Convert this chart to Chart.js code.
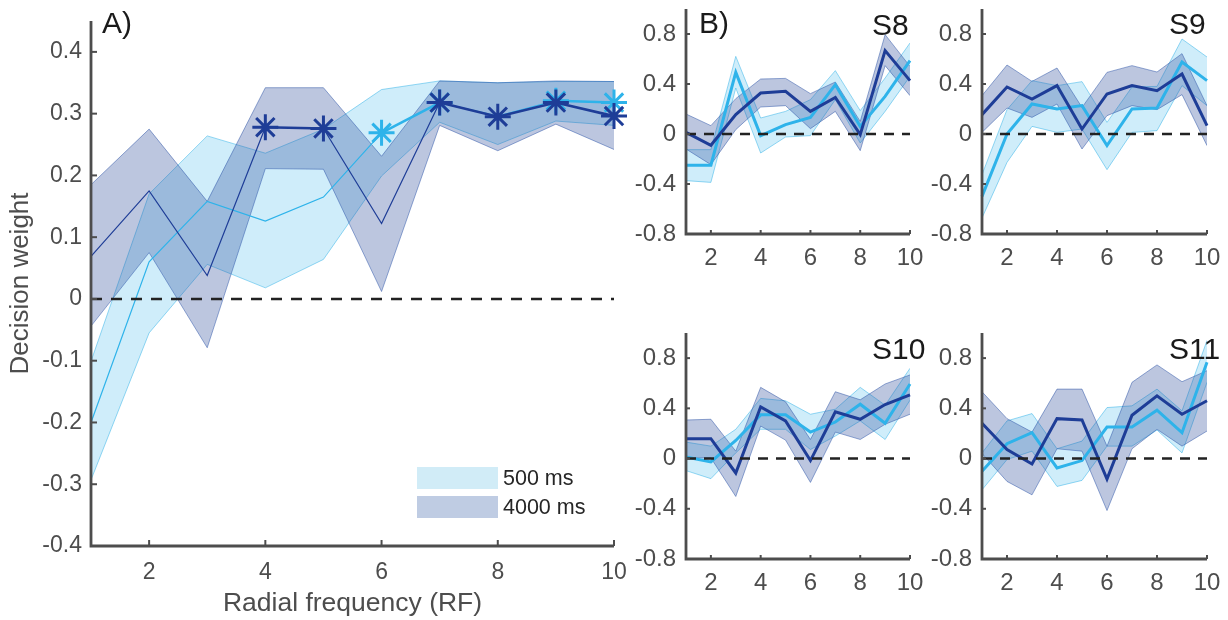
<!DOCTYPE html>
<html>
<head>
<meta charset="utf-8">
<script src="https://cdn.jsdelivr.net/npm/chart.js@4.4.1/dist/chart.umd.min.js"></script>
<style>
  body { margin: 0; background: #fff; }
  #wrap { position: relative; width: 1228px; height: 620px; overflow: hidden; }
  canvas { position: absolute; }
</style>
</head>
<body>
<div id="wrap">
  <canvas id="chartA"></canvas>
  <canvas id="chartS8"></canvas>
  <canvas id="chartS9"></canvas>
  <canvas id="chartS10"></canvas>
  <canvas id="chartS11"></canvas>
</div>
<script>
// x categories: radial frequency 1..10
const rf = [1, 2, 3, 4, 5, 6, 7, 8, 9, 10];
const xTicks = [2, 4, 6, 8, 10];
const yTicksA = [-0.4, -0.3, -0.2, -0.1, 0, 0.1, 0.2, 0.3, 0.4];
const yTicksB = [-0.8, -0.4, 0, 0.4, 0.8];
const legendLabels = ['500 ms', '4000 ms'];

// Panel A (group): 500 ms mean + band, 4000 ms mean + band
const shortMeanA = [-0.2, 0.06, 0.158, 0.126, 0.165, 0.269, 0.318, 0.296, 0.321, 0.318];
const shortHiA   = [-0.101, 0.17, 0.264, 0.236, 0.275, 0.339, 0.353, 0.35, 0.352, 0.352];
const shortLoA   = [-0.293, -0.055, 0.056, 0.018, 0.064, 0.199, 0.286, 0.25, 0.288, 0.281];
const longMeanA  = [0.069, 0.175, 0.038, 0.278, 0.276, 0.122, 0.318, 0.295, 0.318, 0.296];
const longHiA    = [0.185, 0.275, 0.158, 0.342, 0.342, 0.231, 0.353, 0.35, 0.353, 0.352];
const longLoA    = [-0.044, 0.075, -0.079, 0.211, 0.21, 0.012, 0.281, 0.24, 0.283, 0.242];
const sigShortA  = [6, 7, 9, 10];
const sigLongA   = [4, 5, 7, 8, 9, 10];

// S8
const shortMeanS8 = [-0.25, -0.25, 0.493, -0.013, 0.075, 0.133, 0.395, 0.061, 0.301, 0.587];
const shortHiS8   = [-0.125, -0.125, 0.621, 0.128, 0.181, 0.275, 0.507, 0.187, 0.448, 0.728];
const shortLoS8   = [-0.373, -0.387, 0.368, -0.152, -0.024, -0.013, 0.275, -0.072, 0.181, 0.461];
const longMeanS8  = [0.013, -0.09, 0.155, 0.328, 0.341, 0.181, 0.293, -0.005, 0.667, 0.427];
const longHiS8    = [0.16, 0.067, 0.283, 0.44, 0.445, 0.323, 0.416, 0.101, 0.795, 0.541];
const longLoS8    = [-0.12, -0.245, 0.035, 0.216, 0.227, 0.043, 0.181, -0.133, 0.547, 0.307];

// S9
const shortMeanS9 = [-0.499, 0.0, 0.24, 0.2, 0.227, -0.093, 0.2, 0.208, 0.576, 0.427];
const shortHiS9   = [-0.325, 0.195, 0.427, 0.387, 0.419, 0.093, 0.376, 0.381, 0.76, 0.616];
const shortLoS9   = [-0.672, -0.227, 0.061, 0.013, 0.04, -0.285, 0.013, 0.027, 0.387, 0.227];
const longMeanS9  = [0.155, 0.376, 0.28, 0.387, 0.04, 0.32, 0.387, 0.347, 0.48, 0.067];
const longHiS9    = [0.307, 0.552, 0.421, 0.528, 0.213, 0.493, 0.547, 0.496, 0.643, 0.227];
const longLoS9    = [0.013, 0.208, 0.133, 0.24, -0.12, 0.147, 0.227, 0.195, 0.315, -0.093];

// S10
const shortMeanS10 = [0.013, -0.027, 0.144, 0.348, 0.348, 0.211, 0.291, 0.433, 0.281, 0.594];
const shortHiS10   = [0.131, 0.099, 0.233, 0.479, 0.46, 0.353, 0.393, 0.567, 0.425, 0.719];
const shortLoS10   = [-0.096, -0.16, 0.045, 0.233, 0.233, 0.072, 0.179, 0.3, 0.152, 0.465];
const longMeanS10  = [0.158, 0.158, -0.115, 0.412, 0.3, -0.016, 0.372, 0.313, 0.43, 0.508];
const longHiS10    = [0.307, 0.313, 0.059, 0.567, 0.452, 0.152, 0.532, 0.468, 0.594, 0.666];
const longLoS10    = [0.005, 0.005, -0.302, 0.259, 0.147, -0.19, 0.211, 0.152, 0.273, 0.353];

// S11
const shortMeanS11 = [-0.102, 0.118, 0.206, -0.075, -0.016, 0.251, 0.251, 0.385, 0.206, 0.767];
const shortHiS11   = [0.045, 0.3, 0.358, 0.078, 0.139, 0.406, 0.42, 0.553, 0.38, 0.941];
const shortLoS11   = [-0.249, -0.008, 0.059, -0.222, -0.174, 0.099, 0.099, 0.227, 0.045, 0.607];
const longMeanS11  = [0.281, 0.072, -0.043, 0.318, 0.307, -0.163, 0.345, 0.5, 0.353, 0.46];
const longHiS11    = [0.532, 0.318, 0.211, 0.553, 0.553, 0.099, 0.607, 0.746, 0.612, 0.7];
const longLoS11    = [0.04, -0.182, -0.289, 0.078, 0.059, -0.414, 0.078, 0.233, 0.099, 0.219];

const C = {
  short: '#2eb3ea', long: '#1e3d97',
  shortFill: 'rgba(48,178,232,0.23)', longFill: 'rgba(38,72,152,0.31)',
  shortEdge: 'rgba(48,178,232,0.5)', longEdge: 'rgba(45,85,170,0.5)',
  shortPatch: '#d1ecf7', longPatch: '#bfcce3',
  axis: '#4d4d4d', text: '#4d4d4d', title: '#1a1a1a', zero: '#222222'
};
const FONT = '"Liberation Sans", Arial, Helvetica, sans-serif';
Chart.defaults.font.family = FONT;

const pts = arr => arr.map((v, i) => ({ x: rf[i], y: v }));

// draws axis lines and MATLAB-style inward ticks on top of the data
const axesInward = {
  id: 'axesInward',
  afterDatasetsDraw(chart, args, opts) {
    const { ctx, chartArea: a, scales: { x, y } } = chart;
    ctx.save();
    ctx.strokeStyle = C.axis;
    ctx.lineWidth = opts.width;
    ctx.beginPath();
    ctx.moveTo(a.left, a.top);
    ctx.lineTo(a.left, a.bottom);
    ctx.lineTo(a.right, a.bottom);
    ctx.stroke();
    ctx.lineWidth = 2;
    x.ticks.forEach(t => {
      const px = x.getPixelForValue(t.value);
      ctx.beginPath(); ctx.moveTo(px, a.bottom); ctx.lineTo(px, a.bottom - opts.len); ctx.stroke();
    });
    y.ticks.forEach(t => {
      const py = y.getPixelForValue(t.value);
      ctx.beginPath(); ctx.moveTo(a.left, py); ctx.lineTo(a.left + opts.len, py); ctx.stroke();
    });
    ctx.restore();
  }
};

// panel letters, subject names and the legend of panel A
const panelText = {
  id: 'panelText',
  afterDraw(chart, args, opts) {
    const { ctx, chartArea: a } = chart;
    ctx.save();
    (opts.items || []).forEach(it => {
      ctx.font = it.size + 'px ' + FONT;
      ctx.fillStyle = it.color || C.title;
      ctx.textBaseline = 'alphabetic';
      ctx.textAlign = 'left';
      ctx.fillText(it.text, a.left + it.dx, a.top + it.dy);
    });
    if (opts.legend) {
      const L = opts.legend;
      [C.shortPatch, C.longPatch].forEach((col, i) => {
        const top = a.top + L.dy + i * L.step;
        ctx.fillStyle = col;
        ctx.fillRect(a.left + L.dx, top, L.w, L.h);
        ctx.fillStyle = '#262626';
        ctx.font = L.size + 'px ' + FONT;
        ctx.textBaseline = 'middle';
        ctx.fillText(legendLabels[i], a.left + L.dx + L.w + 5, top + L.h / 2 + 1);
      });
    }
    ctx.restore();
  }
};

function buildSets(p, o) {
  const sizeAt = sig => c => (sig.includes(rf[c.index]) ? o.starR : 0);
  const segW = sig => c => (sig.includes(rf[c.p0DataIndex]) && sig.includes(rf[c.p1DataIndex]) ? o.lwSig : o.lw);
  const band = (data, col, fillCol, order, fill) => ({
    data: pts(data), borderColor: col, borderWidth: 1, pointRadius: 0,
    fill: fill ? '-1' : false, backgroundColor: fillCol, order: order
  });
  return [
    band(p.shortHi, C.shortEdge, C.shortFill, 8, false),
    band(p.shortLo, C.shortEdge, C.shortFill, 7, true),
    band(p.longHi, C.longEdge, C.longFill, 6, false),
    band(p.longLo, C.longEdge, C.longFill, 5, true),
    {
      data: pts(p.shortMean), borderColor: C.short, borderWidth: o.lw, fill: false, order: 4, clip: false,
      segment: { borderWidth: segW(p.sigShort || []) },
      pointStyle: 'star', pointRadius: sizeAt(p.sigShort || []), pointBorderWidth: 3,
      pointBorderColor: C.short, pointBackgroundColor: C.short
    },
    {
      data: pts(p.longMean), borderColor: C.long, borderWidth: o.lw, fill: false, order: 3, clip: false,
      segment: { borderWidth: segW(p.sigLong || []) },
      pointStyle: 'star', pointRadius: sizeAt(p.sigLong || []), pointBorderWidth: 3,
      pointBorderColor: C.long, pointBackgroundColor: C.long
    },
    {
      data: [{ x: rf[0], y: 0 }, { x: rf[rf.length - 1], y: 0 }], borderColor: C.zero,
      borderWidth: 2.6, borderDash: o.dash, pointRadius: 0, fill: false, order: 1
    }
  ];
}

function makeChart(id, box, plot, p, o) {
  const cv = document.getElementById(id);
  cv.width = box.r - box.l;
  cv.height = box.b - box.t;
  cv.style.left = box.l + 'px';
  cv.style.top = box.t + 'px';
  return new Chart(cv, {
    type: 'line',
    data: { datasets: buildSets(p, o) },
    options: {
      responsive: false, animation: false, events: [],
      layout: { padding: { top: plot.t - box.t, right: box.r - plot.r, left: 0, bottom: 0 } },
      plugins: {
        legend: { display: false }, tooltip: { enabled: false },
        axesInward: { len: o.tickLen, width: 2.8 },
        panelText: { items: o.texts, legend: o.legend }
      },
      scales: {
        x: {
          type: 'linear', min: 1, max: 10,
          afterBuildTicks: s => { s.ticks = xTicks.map(v => ({ value: v })); },
          afterFit: s => { s.height = box.b - plot.b; s.paddingLeft = 0; s.paddingRight = 0; },
          grid: { display: false, drawTicks: false }, border: { display: false },
          ticks: { color: C.text, font: { size: o.tickSize }, padding: o.xPad, maxRotation: 0, autoSkip: false,
                   callback: v => String(v) },
          title: o.xTitle ? { display: true, text: o.xTitle, color: C.text, font: { size: 26.5 }, padding: { top: 0, bottom: 0 } }
                          : { display: false }
        },
        y: {
          type: 'linear', min: o.yMin, max: o.yMax,
          afterBuildTicks: s => { s.ticks = o.yTicks.map(v => ({ value: v })); },
          afterFit: s => { s.width = plot.l - box.l; s.paddingTop = 0; s.paddingBottom = 0; },
          grid: { display: false, drawTicks: false }, border: { display: false },
          ticks: { color: C.text, font: { size: o.tickSize }, padding: o.yPad, autoSkip: false,
                   callback: v => String(Number(v.toFixed(2))) },
          title: o.yTitle ? { display: true, text: o.yTitle, color: C.text, font: { size: 26 }, padding: { top: 5, bottom: 0 } }
                          : { display: false }
        }
      }
    },
    plugins: [axesInward, panelText]
  });
}

const small = (texts) => ({
  yMin: -0.8, yMax: 1.0, yTicks: yTicksB, tickSize: 24, tickLen: 4, xPad: 10, yPad: 10,
  lw: 3, lwSig: 3, starR: 0, dash: [10, 8], texts: texts
});

makeChart('chartA', { l: 0, t: 0, r: 630, b: 620 }, { l: 91, t: 21, r: 614, b: 546 },
  { shortMean: shortMeanA, shortHi: shortHiA, shortLo: shortLoA,
    longMean: longMeanA, longHi: longHiA, longLo: longLoA, sigShort: sigShortA, sigLong: sigLongA },
  { yMin: -0.4, yMax: 0.45, yTicks: yTicksA, tickSize: 23, tickLen: 6, xPad: 13, yPad: 9,
    lw: 1.2, lwSig: 2.6, starR: 13, dash: [11, 9],
    xTitle: 'Radial frequency (RF)', yTitle: 'Decision weight',
    texts: [{ text: 'A)', dx: 11, dy: 12, size: 30 }],
    legend: { dx: 326, dy: 446, w: 81, h: 22, step: 29, size: 21.5 } });

makeChart('chartS8', { l: 630, t: 0, r: 935, b: 275 }, { l: 686, t: 9, r: 910, b: 234 },
  { shortMean: shortMeanS8, shortHi: shortHiS8, shortLo: shortLoS8,
    longMean: longMeanS8, longHi: longHiS8, longLo: longLoS8 },
  small([{ text: 'B)', dx: 13, dy: 24, size: 30 }, { text: 'S8', dx: 186, dy: 26, size: 30 }]));

makeChart('chartS9', { l: 915, t: 0, r: 1228, b: 275 }, { l: 982, t: 9, r: 1207, b: 234 },
  { shortMean: shortMeanS9, shortHi: shortHiS9, shortLo: shortLoS9,
    longMean: longMeanS9, longHi: longHiS9, longLo: longLoS9 },
  small([{ text: 'S9', dx: 187, dy: 25, size: 30 }]));

makeChart('chartS10', { l: 630, t: 290, r: 935, b: 600 }, { l: 686, t: 333, r: 910, b: 559 },
  { shortMean: shortMeanS10, shortHi: shortHiS10, shortLo: shortLoS10,
    longMean: longMeanS10, longHi: longHiS10, longLo: longLoS10 },
  small([{ text: 'S10', dx: 186, dy: 26, size: 30 }]));

makeChart('chartS11', { l: 915, t: 290, r: 1228, b: 600 }, { l: 982, t: 333, r: 1207, b: 559 },
  { shortMean: shortMeanS11, shortHi: shortHiS11, shortLo: shortLoS11,
    longMean: longMeanS11, longHi: longHiS11, longLo: longLoS11 },
  small([{ text: 'S11', dx: 187, dy: 26, size: 30 }]));
</script>
</body>
</html>
